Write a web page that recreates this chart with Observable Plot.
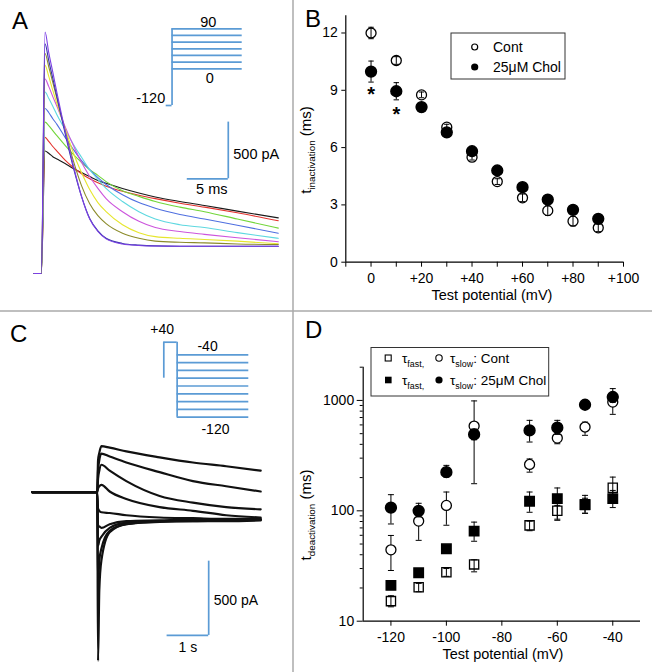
<!DOCTYPE html>
<html><head><meta charset="utf-8">
<script src="https://cdn.jsdelivr.net/npm/d3@7"></script>
<script src="https://cdn.jsdelivr.net/npm/@observablehq/plot@0.6"></script>
<style>
body{margin:0;background:#fff;}
#fig{position:relative;width:652px;height:672px;overflow:hidden;background:#fff;font-family:"Liberation Sans",Arial,Helvetica,sans-serif;}
</style></head><body><div id="fig"></div>
<script>
// ---------------- DATA ----------------
// Panel A: inactivation current traces (time in ms, current in pA), test pulses 0..+90 mV
const aVoltages = [0, 10, 20, 30, 40, 50, 60, 70, 80, 90];
const aTime = [-0.8, 0.1, 0.55, 1, 1.5, 2, 3, 4, 5, 6, 7, 8, 10, 12, 14, 17, 20, 24, 29];
const aCurrents = [
  [0, 0, 1080, 1060, 1030, 1010, 970, 925, 890, 855, 820, 795, 750, 710, 675, 635, 600, 550, 490],
  [0, 0, 1200, 1165, 1120, 1080, 1000, 935, 880, 835, 800, 770, 725, 690, 660, 620, 585, 535, 465],
  [0, 0, 1335, 1305, 1260, 1215, 1130, 1050, 980, 915, 865, 810, 730, 680, 635, 585, 545, 480, 400],
  [0, 0, 1455, 1420, 1365, 1315, 1200, 1095, 995, 915, 845, 785, 695, 625, 575, 520, 480, 425, 355],
  [0, 0, 1600, 1545, 1475, 1400, 1270, 1140, 1025, 915, 830, 750, 635, 545, 480, 430, 405, 360, 310],
  [0, 0, 1715, 1650, 1560, 1475, 1295, 1130, 980, 855, 750, 660, 545, 460, 405, 370, 345, 315, 280],
  [0, 0, 1835, 1740, 1615, 1500, 1280, 1065, 890, 740, 625, 545, 430, 360, 325, 310, 300, 285, 262],
  [0, 0, 1940, 1825, 1685, 1545, 1260, 995, 775, 615, 510, 440, 355, 310, 285, 275, 270, 260, 255],
  [0, 0, 2025, 1880, 1720, 1560, 1235, 935, 680, 485, 375, 310, 265, 250, 243, 240, 240, 240, 240],
  [0, 0, 2130, 1950, 1775, 1595, 1260, 955, 680, 480, 370, 305, 260, 247, 242, 240, 240, 240, 240]
];
const aScaleBar = {t0: 17.9, I0: 835, dt: 5, dI: 500};
const aScaleLabels = ["500 pA", "5 ms"];
// Panel A protocol (mV)
const aHold = -120;
const aSteps = [0, 15, 30, 45, 60, 75, 90];
const aProtoTimes = {start: 0, step: 1, end: 13};
const aProtoLabels = ["90", "0", "-120"];

// Panel B: inactivation time constants (ms)
const bVoltages = [0, 10, 20, 30, 40, 50, 60, 70, 80, 90];
const bCont = [12.0, 10.56, 8.76, 7.07, 5.5, 4.22, 3.37, 2.7, 2.15, 1.8];
const bContErr = [0.3, 0.2, 0.15, 0.15, 0.15, 0.15, 0.2, 0.25, 0.25, 0.2];
const bChol = [9.98, 8.95, 8.12, 6.8, 5.81, 4.8, 3.93, 3.28, 2.74, 2.27];
const bCholErr = [0.55, 0.45, 0.15, 0.1, 0.1, 0.1, 0.1, 0.1, 0.1, 0.1];
const bStars = [{v: 0, y: 9.1}, {v: 10, y: 8.05}];
const bXTicks = [-10, 0, 10, 20, 30, 40, 50, 60, 70, 80, 90, 100];
const bXLabelTicks = [0, 20, 40, 60, 80, 100];
const bXTickLabels = ["0", "+20", "+40", "+60", "+80", "+100"];
const bYTicks = [0, 3, 6, 9, 12];
const bLegend = ["Cont", "25μM Chol"];

// Panel C: deactivation current traces (time in s, current in pA), test pulses -40..-120 mV
const cVoltages = [-40, -50, -60, -70, -80, -90, -100, -110, -120];
const cTime = [-1.56, 0, 0.02, 0.05, 0.1, 0.3, 0.7, 1.5, 2.3, 3.1, 3.93];
const cCurrents = [
  [0, 0, 215, 265, 310, 300, 275, 235, 200, 175, 145],
  [0, 0, 145, 215, 260, 240, 200, 135, 75, 40, 5],
  [0, 0, 90, 145, 185, 145, 75, -25, -70, -100, -115],
  [0, 0, 25, 40, 50, 5, -45, -100, -125, -155, -170],
  [0, 0, -110, -125, -135, -140, -155, -170, -175, -180, -180],
  [0, 0, -225, -230, -240, -215, -195, -190, -185, -185, -185],
  [0, 0, -360, -325, -300, -240, -205, -195, -190, -185, -185],
  [0, 0, -615, -460, -380, -260, -215, -195, -195, -190, -185],
  [0, 0, -1135, -660, -460, -270, -215, -200, -195, -195, -190]
];
const cScaleBar = {t0: 1.68, I0: -964, dt: 1, dI: 500};
const cScaleLabels = ["500 pA", "1 s"];
// Panel C protocol (mV)
const cHold = -70;
const cPulse = 40;
const cSteps = [-40, -50, -60, -70, -80, -90, -100, -110, -120];
const cProtoTimes = {start: 0, step: 0.32, end: 2.04};
const cProtoLabels = ["+40", "-40", "-120"];

// Panel D: deactivation time constants (ms)
const dVoltages = [-120, -110, -100, -90, -70, -60, -50, -40];
const dSlowCont = [44.3, 80.7, 112, 586, 263, 456, 574, 966];
const dSlowContLo = [28.8, 54, 74, 176, 224, 405, 483, 748];
const dSlowContHi = [59.8, 98, 148, 990, 295, 510, 637, 1040];
const dSlowChol = [107, 100, 224, 492, 535, 566, 914, 1074];
const dSlowCholLo = [76, 88, 202, 440, 420, 492, 850, 960];
const dSlowCholHi = [140, 117, 258, 550, 660, 660, 980, 1280];
const dFastCont = [15.2, 20.3, 27.8, 32.7, 73.8, 100, 113, 162];
const dFastContLo = [13.5, 18.5, 25.5, 28, 66, 82, 95, 133];
const dFastContHi = [17, 22, 30, 36, 80.7, 112, 130, 202];
const dFastChol = [21.1, 27.5, 45.3, 65.5, 122, 129, 114, 129];
const dFastCholLo = [19.5, 25.5, 42, 53, 97, 84, 95, 107];
const dFastCholHi = [22.5, 29.5, 48.5, 79, 148, 161, 138, 153];
const dXTicks = [-120, -100, -80, -60, -40];
const dYTicks = [10, 100, 1000];
const dYMinorTicks = [20, 30, 40, 50, 60, 70, 80, 90, 200, 300, 400, 500, 600, 700, 800, 900, 2000];
const dLegend = [": Cont", ": 25μM Chol"];

const panelLetters = ["A", "B", "C", "D"];

// ---------------- STYLE ----------------
const FONT = '"Liberation Sans", Arial, Helvetica, sans-serif';
const BLUE = "#5b9bd5";
const aTraceColors = ["#1a1a1a", "#e3322d", "#72d63a", "#4f6fe0", "#5ed8e0", "#cc55dd", "#e6e62e", "#8b8b2a", "#3535a5", "#7b3fe4"];
const baseStyle = {fontFamily: FONT, fontSize: "14px", color: "#000", background: "transparent", overflow: "visible"};
const fig = document.getElementById("fig");
function mount(el, left, top) {
  el.style.position = "absolute"; el.style.left = left + "px"; el.style.top = top + "px";
  el.style.maxWidth = "none";
  fig.appendChild(el); return el;
}
const cap = {draw(ctx, size) { const w = Math.sqrt(size / Math.PI); ctx.moveTo(-w, 0); ctx.lineTo(w, 0); }};
function richText(sel, x, y, angle, parts, size, anchor) {
  const t = sel.append("text").attr("transform", `translate(${x},${y}) rotate(${angle})`)
    .attr("text-anchor", anchor || "middle").attr("font-size", size).attr("fill", "#000").attr("font-family", FONT);
  let shift = 0;
  for (const p of parts) {
    const target = p.sub ? size * 0.28 : 0;
    const ts = t.append("tspan").text(p.t).attr("dy", target - shift);
    if (p.sub) ts.attr("font-size", size * 0.66);
    shift = target;
  }
  return t;
}
function plainText(sel, x, y, str, size, anchor) {
  return sel.append("text").attr("x", x).attr("y", y).attr("text-anchor", anchor || "start")
    .attr("font-size", size).attr("font-family", FONT).attr("fill", "#000").text(str);
}
// schematic (non-proportional) voltage axes of the protocol insets
const warpA = d3.scaleLinear().domain([-120, 0, 90]).range([0, 36.7, 76.7]);
const warpC = d3.scaleLinear().domain([-120, -40, 40]).range([0, 62.4, 75]);

// ---------------- DECORATION (separators, letters) ----------------
const deco = d3.create("svg").attr("width", 652).attr("height", 672);
deco.append("line").attr("x1", 293).attr("x2", 293).attr("y1", 0).attr("y2", 672).attr("stroke", "#aaa").attr("stroke-width", 1.5);
deco.append("line").attr("x1", 0).attr("x2", 652).attr("y1", 311).attr("y2", 311).attr("stroke", "#aaa").attr("stroke-width", 1.5);
const letterPos = [[12, 28.5], [305, 27], [10, 342], [305, 338]];
panelLetters.forEach((L, i) => plainText(deco, letterPos[i][0], letterPos[i][1], L, 24));
mount(deco.node(), 0, 0);

// ---------------- PANEL A ----------------
const plotA = Plot.plot({
  width: 292, height: 310, marginLeft: 31.8, marginRight: 6, marginTop: 12.2, marginBottom: 25.7,
  x: {domain: [-1, 30], axis: null}, y: {domain: [-100, 2300], axis: null},
  style: {...baseStyle, fontSize: "14.5px"},
  marks: [
    ...aVoltages.map((v, i) => Plot.line(aTime.map((t, j) => ({t, I: aCurrents[i][j]})),
      {x: "t", y: "I", stroke: aTraceColors[i], strokeWidth: 1.1, curve: "monotone-x"})),
    Plot.ruleY([aScaleBar], {y: "I0", x1: d => d.t0, x2: d => d.t0 + d.dt, stroke: BLUE, strokeWidth: 1.7}),
    Plot.ruleX([aScaleBar], {x: d => d.t0 + d.dt, y1: d => d.I0, y2: d => d.I0 + d.dI, stroke: BLUE, strokeWidth: 1.7}),
    Plot.text([aScaleBar], {x: d => d.t0 + d.dt, y: d => d.I0 + d.dI / 2, text: () => aScaleLabels[0], textAnchor: "start", dx: 5, dy: 4}),
    Plot.text([aScaleBar], {x: d => d.t0 + d.dt / 2, y: d => d.I0, text: () => aScaleLabels[1], lineAnchor: "top", dx: 4, dy: 5})
  ]
});
mount(plotA, 0, 0);

const protoA = Plot.plot({
  width: 292, height: 310, margin: 0,
  x: {domain: [0, 13], range: [165.7, 241.7], axis: null},
  y: {transform: warpA, domain: [0, 76.7], range: [105, 28.3], axis: null},
  style: {...baseStyle, fontSize: "14.5px"},
  marks: [
    Plot.ruleY([aHold], {x1: () => aProtoTimes.start, x2: () => aProtoTimes.step, stroke: BLUE, strokeWidth: 1.7}),
    Plot.ruleX([aProtoTimes.step], {y1: () => aHold, y2: () => d3.max(aSteps), stroke: BLUE, strokeWidth: 1.7}),
    Plot.ruleY(aSteps, {x1: () => aProtoTimes.step, x2: () => aProtoTimes.end, stroke: BLUE, strokeWidth: 1.7}),
    Plot.text([d3.max(aSteps)], {x: () => 7.2, y: d => d, text: () => aProtoLabels[0], lineAnchor: "bottom", dy: -2}),
    Plot.text([d3.min(aSteps)], {x: () => 7.45, y: d => d, text: () => aProtoLabels[1], lineAnchor: "top", dy: 4}),
    Plot.text([aHold], {x: () => aProtoTimes.start, y: d => d, text: () => aProtoLabels[2], textAnchor: "end", lineAnchor: "bottom", dx: -1, dy: -3})
  ]
});
mount(protoA, 0, 0);

// ---------------- PANEL B ----------------
const bXLabelMap = new Map(bXLabelTicks.map((v, i) => [v, bXTickLabels[i]]));
const bContRows = bVoltages.map((v, i) => ({v, y: bCont[i], lo: bCont[i] - bContErr[i], hi: bCont[i] + bContErr[i]}));
const bCholRows = bVoltages.map((v, i) => ({v, y: bChol[i], lo: bChol[i] - bCholErr[i], hi: bChol[i] + bCholErr[i]}));
const errB = rows => [
  Plot.ruleX(rows, {x: "v", y1: "lo", y2: "hi", stroke: "#000", strokeWidth: 1}),
  Plot.dot(rows, {x: "v", y: "lo", symbol: cap, r: 2.7, fill: "none", stroke: "#000", strokeWidth: 1}),
  Plot.dot(rows, {x: "v", y: "hi", symbol: cap, r: 2.7, fill: "none", stroke: "#000", strokeWidth: 1})
];
const plotB = Plot.plot({
  width: 360, height: 310, marginLeft: 53.3, marginRight: 29, marginTop: 15.3, marginBottom: 48.3,
  x: {domain: [-10, 100], label: null}, y: {domain: [0, 12.9], label: null},
  style: baseStyle,
  marks: [
    Plot.axisX(bXTicks, {tickSize: 5, tickPadding: 6, tickFormat: d => bXLabelMap.get(d) ?? "", label: null}),
    Plot.axisY(bYTicks, {tickSize: 4, tickPadding: 4, tickFormat: d => String(d), label: null}),
    Plot.ruleX([-10], {stroke: "#000", strokeWidth: 1.2}),
    Plot.ruleY([0], {stroke: "#000", strokeWidth: 1.2}),
    Plot.dot(bContRows, {x: "v", y: "y", r: 5, fill: "#fff", stroke: "#000", strokeWidth: 1.3}),
    ...errB(bContRows),
    ...errB(bCholRows),
    Plot.dot(bCholRows, {x: "v", y: "y", r: 5.4, fill: "#000", stroke: "#000"}),
    Plot.text(bStars, {x: "v", y: "y", text: () => "*", fontSize: 20, fontWeight: "bold", dy: 6})
  ]
});
mount(plotB, 292, 0);
{
  const s = d3.select(plotB);
  richText(s, 19, 150, -90, [{t: "t"}, {t: "inactivation", sub: true}, {t: " (ms)"}], 15);
  plainText(s, 200, 300, "Test potential (mV)", 14.5, "middle");
  s.append("rect").attr("x", 159).attr("y", 33).attr("width", 114).attr("height", 46)
    .attr("fill", "#fff").attr("stroke", "#333").attr("stroke-width", 1);
  s.append("circle").attr("cx", 182.7).attr("cy", 47).attr("r", 3).attr("fill", "#fff").attr("stroke", "#000").attr("stroke-width", 1.2);
  s.append("circle").attr("cx", 182.7).attr("cy", 67).attr("r", 3.6).attr("fill", "#000");
  bLegend.forEach((L, i) => plainText(s, 201, 52 + 20 * i, L, 14, "start"));
}

// ---------------- PANEL C ----------------
const plotC = Plot.plot({
  width: 292, height: 361, marginLeft: 26, marginRight: 28.9, marginTop: 121.3, marginBottom: 2,
  x: {domain: [-1.7, 4.0], axis: null}, y: {domain: [-1200, 400], axis: null},
  style: baseStyle,
  marks: [
    ...cVoltages.map((v, i) => Plot.line(cTime.map((t, j) => ({t, I: cCurrents[i][j]})),
      {x: "t", y: "I", stroke: "#111", strokeWidth: 2.2, curve: "monotone-x"})),
    Plot.ruleY([cScaleBar], {y: "I0", x1: d => d.t0, x2: d => d.t0 + d.dt, stroke: BLUE, strokeWidth: 1.7}),
    Plot.ruleX([cScaleBar], {x: d => d.t0 + d.dt, y1: d => d.I0, y2: d => d.I0 + d.dI, stroke: BLUE, strokeWidth: 1.7}),
    Plot.text([cScaleBar], {x: d => d.t0 + d.dt, y: d => d.I0 + d.dI / 2, text: () => cScaleLabels[0], textAnchor: "start", dx: 5, dy: 2}),
    Plot.text([cScaleBar], {x: d => d.t0 + d.dt / 2, y: d => d.I0, text: () => cScaleLabels[1], lineAnchor: "top", dy: 7})
  ]
});
mount(plotC, 0, 311);

const protoC = Plot.plot({
  width: 292, height: 361, margin: 0,
  x: {domain: [0, 2.04], range: [163.3, 248.3], axis: null},
  y: {transform: warpC, domain: [0, 75], range: [105.7, 30.7], axis: null},
  style: baseStyle,
  marks: [
    Plot.ruleX([cProtoTimes.start], {y1: () => cHold, y2: () => cPulse, stroke: BLUE, strokeWidth: 1.7}),
    Plot.ruleY([cPulse], {x1: () => cProtoTimes.start, x2: () => cProtoTimes.step, stroke: BLUE, strokeWidth: 1.7}),
    Plot.ruleX([cProtoTimes.step], {y1: () => cPulse, y2: () => d3.min(cSteps), stroke: BLUE, strokeWidth: 1.7}),
    Plot.ruleY(cSteps, {x1: () => cProtoTimes.step, x2: () => cProtoTimes.end, stroke: BLUE, strokeWidth: 1.7}),
    Plot.text([cPulse], {x: () => -0.04, y: d => d, text: () => cProtoLabels[0], lineAnchor: "bottom", dy: -8}),
    Plot.text([d3.max(cSteps)], {x: () => 1.05, y: d => d, text: () => cProtoLabels[1], lineAnchor: "bottom", dy: -4}),
    Plot.text([d3.min(cSteps)], {x: () => 1.24, y: d => d, text: () => cProtoLabels[2], lineAnchor: "top", dy: 7})
  ]
});
mount(protoC, 0, 311);

// ---------------- PANEL D ----------------
const rowsD = (y, lo, hi) => dVoltages.map((v, i) => ({v, y: y[i], lo: lo[i], hi: hi[i]}));
const slowCont = rowsD(dSlowCont, dSlowContLo, dSlowContHi);
const slowChol = rowsD(dSlowChol, dSlowCholLo, dSlowCholHi);
const fastCont = rowsD(dFastCont, dFastContLo, dFastContHi);
const fastChol = rowsD(dFastChol, dFastCholLo, dFastCholHi);
const errD = rows => [
  Plot.ruleX(rows, {x: "v", y1: "lo", y2: "hi", stroke: "#000", strokeWidth: 1}),
  Plot.dot(rows, {x: "v", y: "lo", symbol: cap, r: 3, fill: "none", stroke: "#000", strokeWidth: 1}),
  Plot.dot(rows, {x: "v", y: "hi", symbol: cap, r: 3, fill: "none", stroke: "#000", strokeWidth: 1})
];
const plotD = Plot.plot({
  width: 360, height: 362, marginLeft: 70.7, marginRight: 12, marginTop: 56.7, marginBottom: 51.3,
  x: {domain: [-130, -30], label: null}, y: {type: "log", domain: [10, 2000], label: null},
  style: baseStyle,
  marks: [
    Plot.axisX(dXTicks, {tickSize: 5, tickPadding: 6, tickFormat: d => String(d), label: null}),
    Plot.axisY(dYMinorTicks, {tickSize: 3, tickFormat: () => "", label: null}),
    Plot.axisY(dYTicks, {tickSize: 6, tickPadding: 3, tickFormat: d => String(d), label: null}),
    Plot.ruleX([-130], {stroke: "#000", strokeWidth: 1.2}),
    Plot.ruleY([10], {stroke: "#000", strokeWidth: 1.2}),
    ...errD(slowCont),
    Plot.dot(slowCont, {x: "v", y: "y", r: 5, fill: "#fff", stroke: "#000", strokeWidth: 1.3}),
    Plot.dot(fastCont, {x: "v", y: "y", r: 5.2, symbol: "square", fill: "#fff", stroke: "#000", strokeWidth: 1.3}),
    ...errD(fastCont),
    ...errD(slowChol),
    ...errD(fastChol),
    Plot.dot(slowChol, {x: "v", y: "y", r: 5.4, fill: "#000", stroke: "#000"}),
    Plot.dot(fastChol, {x: "v", y: "y", r: 5.3, symbol: "square", fill: "#000", stroke: "#000"})
  ]
});
mount(plotD, 292, 310);
{
  const s = d3.select(plotD);
  richText(s, 19, 205, -90, [{t: "t"}, {t: "deactivation", sub: true}, {t: " (ms)"}], 15);
  plainText(s, 211, 349, "Test potential (mV)", 14.5, "middle");
  s.append("rect").attr("x", 79).attr("y", 37.5).attr("width", 177.7).attr("height", 48.5)
    .attr("fill", "#fff").attr("stroke", "#333").attr("stroke-width", 1);
  const rowsY = [48, 70];
  s.append("rect").attr("x", 93.2).attr("y", rowsY[0] - 3).attr("width", 6).attr("height", 6).attr("fill", "#fff").attr("stroke", "#000").attr("stroke-width", 1.1);
  s.append("circle").attr("cx", 147).attr("cy", rowsY[0]).attr("r", 3.2).attr("fill", "#fff").attr("stroke", "#000").attr("stroke-width", 1.1);
  s.append("rect").attr("x", 93).attr("y", rowsY[1] - 3.3).attr("width", 6.6).attr("height", 6.6).attr("fill", "#000");
  s.append("circle").attr("cx", 147).attr("cy", rowsY[1]).attr("r", 3.6).attr("fill", "#000");
  rowsY.forEach((y, i) => {
    richText(s, 110, y + 5, 0, [{t: "τ"}, {t: "fast,", sub: true}], 13.5, "start");
    richText(s, 158, y + 5, 0, [{t: "τ"}, {t: "slow", sub: true}, {t: dLegend[i]}], 13.5, "start");
  });
}
</script></body></html>
